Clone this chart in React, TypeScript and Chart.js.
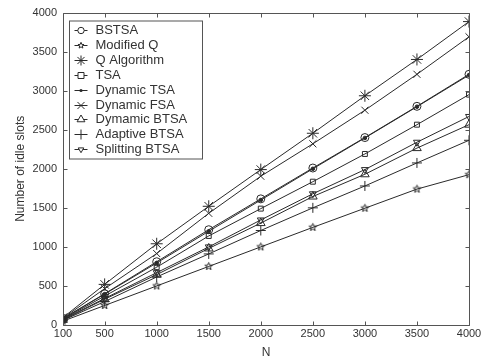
import React, { useEffect, useRef } from "react";
import { Chart, registerables } from "chart.js";

Chart.register(...registerables);

const nValues = [100, 500, 1000, 1500, 2000, 2500, 3000, 3500, 4000];
const xTickValues = [100, 500, 1000, 1500, 2000, 2500, 3000, 3500, 4000];

const bstsa = [85, 400, 810, 1220, 1615, 2010, 2400, 2800, 3210];
const modifiedQ = [50, 250, 500, 750, 1000, 1250, 1495, 1740, 1925];
const qAlgorithm = [95, 520, 1040, 1520, 1990, 2455, 2935, 3400, 3885];
const tsa = [75, 370, 740, 1140, 1490, 1835, 2190, 2565, 2950];
const dynamicTsa = [80, 395, 795, 1200, 1600, 2000, 2395, 2795, 3200];
const dynamicFsa = [88, 465, 915, 1430, 1905, 2320, 2750, 3210, 3690];
const dymamicBtsa = [65, 330, 645, 980, 1305, 1645, 1930, 2265, 2565];
const adaptiveBtsa = [60, 300, 615, 910, 1210, 1500, 1780, 2075, 2365];
const splittingBtsa = [70, 340, 670, 1000, 1345, 1680, 1990, 2340, 2670];

const seriesNames = [
  "BSTSA",
  "Modified Q",
  "Q Algorithm",
  "TSA",
  "Dynamic TSA",
  "Dynamic FSA",
  "Dymamic BTSA",
  "Adaptive BTSA",
  "Splitting BTSA",
];
const seriesData = [bstsa, modifiedQ, qAlgorithm, tsa, dynamicTsa, dynamicFsa, dymamicBtsa, adaptiveBtsa, splittingBtsa];
const markerKinds = ["circle", "pentagram", "star", "rect", "dot", "crossRot", "triangle", "cross", "triangleDown"];
const markerSizes = [4, 4, 6, 3.5, 1.8, 5, 5, 5, 4];
const legendMarkerSizes = [3.2, 3.2, 5, 3, 1.6, 5, 4.5, 5, 3.2];

const LINE = "#2a2a2a";
const AXIS = "#555555";
const TEXT = "#333333";
const FONT = "'Liberation Sans', Arial, sans-serif";

function pentagramPath(ctx: CanvasRenderingContext2D, cx: number, cy: number, r: number) {
  const inner = r * 0.42;
  ctx.beginPath();
  for (let i = 0; i < 10; i++) {
    const rad = i % 2 === 0 ? r : inner;
    const a = -Math.PI / 2 + (i * Math.PI) / 5;
    const x = cx + rad * Math.cos(a);
    const y = cy + rad * Math.sin(a);
    if (i === 0) ctx.moveTo(x, y);
    else ctx.lineTo(x, y);
  }
  ctx.closePath();
}

function makePentagram(r: number) {
  const c = document.createElement("canvas");
  const s = Math.ceil(r * 2 + 3);
  c.width = s;
  c.height = s;
  const ctx = c.getContext("2d")!;
  ctx.strokeStyle = LINE;
  ctx.lineWidth = 1;
  pentagramPath(ctx, s / 2, s / 2, r);
  ctx.stroke();
  return c;
}

function drawMarker(ctx: CanvasRenderingContext2D, kind: string, x: number, y: number, r: number) {
  ctx.save();
  ctx.strokeStyle = LINE;
  ctx.fillStyle = LINE;
  ctx.lineWidth = 1;
  ctx.beginPath();
  switch (kind) {
    case "circle":
      ctx.arc(x, y, r, 0, Math.PI * 2);
      ctx.fillStyle = "#fff";
      ctx.fill();
      ctx.stroke();
      break;
    case "dot":
      ctx.arc(x, y, r, 0, Math.PI * 2);
      ctx.fill();
      break;
    case "rect":
      ctx.rect(x - r, y - r, r * 2, r * 2);
      ctx.fillStyle = "#fff";
      ctx.fill();
      ctx.stroke();
      break;
    case "star": {
      for (let i = 0; i < 4; i++) {
        const a = (i * Math.PI) / 4;
        ctx.moveTo(x - r * Math.cos(a), y - r * Math.sin(a));
        ctx.lineTo(x + r * Math.cos(a), y + r * Math.sin(a));
      }
      ctx.stroke();
      break;
    }
    case "crossRot": {
      const d = r * 0.707;
      ctx.moveTo(x - d, y - d);
      ctx.lineTo(x + d, y + d);
      ctx.moveTo(x - d, y + d);
      ctx.lineTo(x + d, y - d);
      ctx.stroke();
      break;
    }
    case "cross":
      ctx.moveTo(x - r, y);
      ctx.lineTo(x + r, y);
      ctx.moveTo(x, y - r);
      ctx.lineTo(x, y + r);
      ctx.stroke();
      break;
    case "triangle":
      ctx.moveTo(x, y - r);
      ctx.lineTo(x + r * 0.87, y + r * 0.5);
      ctx.lineTo(x - r * 0.87, y + r * 0.5);
      ctx.closePath();
      ctx.fillStyle = "#fff";
      ctx.fill();
      ctx.stroke();
      break;
    case "triangleDown":
      ctx.moveTo(x, y + r);
      ctx.lineTo(x + r * 0.87, y - r * 0.5);
      ctx.lineTo(x - r * 0.87, y - r * 0.5);
      ctx.closePath();
      ctx.fillStyle = "#fff";
      ctx.fill();
      ctx.stroke();
      break;
    case "pentagram":
      pentagramPath(ctx, x, y, r);
      ctx.fillStyle = "#fff";
      ctx.fill();
      ctx.stroke();
      break;
  }
  ctx.restore();
}

const framePlugin = {
  id: "matlabFrame",
  afterDatasetsDraw(chart: any) {
    const { ctx, chartArea } = chart;
    const { left, right, top, bottom } = chartArea;
    const xs = chart.scales.x;
    const ys = chart.scales.y;
    ctx.save();
    ctx.strokeStyle = AXIS;
    ctx.lineWidth = 1;
    const L = Math.round(left) + 0.5;
    const R = Math.round(right) + 0.5;
    const T = Math.round(top) + 0.5;
    const B = Math.round(bottom) + 0.5;
    ctx.beginPath();
    ctx.rect(L, T, R - L, B - T);
    const tl = 4;
    xs.ticks.forEach((t: any) => {
      const px = Math.round(xs.getPixelForValue(t.value)) + 0.5;
      ctx.moveTo(px, B);
      ctx.lineTo(px, B - tl);
      ctx.moveTo(px, T);
      ctx.lineTo(px, T + tl);
    });
    ys.ticks.forEach((t: any) => {
      const py = Math.round(ys.getPixelForValue(t.value)) + 0.5;
      ctx.moveTo(L, py);
      ctx.lineTo(L + tl, py);
      ctx.moveTo(R, py);
      ctx.lineTo(R - tl, py);
    });
    ctx.stroke();

    // legend
    const bx = L + 6;
    const by = T + 7.5;
    const bw = 133;
    const bh = 138;
    ctx.fillStyle = "#ffffff";
    ctx.fillRect(bx, by, bw, bh);
    ctx.strokeStyle = AXIS;
    ctx.strokeRect(bx, by, bw, bh);
    ctx.font = `13px ${FONT}`;
    ctx.textBaseline = "middle";
    ctx.textAlign = "left";
    seriesNames.forEach((name, i) => {
      const y = by + 9 + i * 14.9;
      const yy = Math.round(y) + 0.5;
      ctx.strokeStyle = LINE;
      ctx.beginPath();
      ctx.moveTo(bx + 5, yy);
      ctx.lineTo(bx + 18, yy);
      ctx.stroke();
      drawMarker(ctx, markerKinds[i], bx + 11.5, yy, legendMarkerSizes[i]);
      ctx.fillStyle = TEXT;
      ctx.fillText(name, bx + 26, y + 0.5);
    });
    ctx.restore();
  },
};

export default function App() {
  const canvasRef = useRef<HTMLCanvasElement | null>(null);

  useEffect(() => {
    const canvas = canvasRef.current;
    if (!canvas) return;
    const pent = makePentagram(4);
    const datasets = seriesNames.map((name, i) => {
      const kind = markerKinds[i];
      let pointStyle: any = kind;
      let rotation = 0;
      if (kind === "pentagram") pointStyle = pent;
      if (kind === "dot") pointStyle = "circle";
      if (kind === "triangleDown") {
        pointStyle = "triangle";
        rotation = 180;
      }
      return {
        label: name,
        data: nValues.map((n, j) => ({ x: n, y: seriesData[i][j] })),
        borderColor: LINE,
        borderWidth: 1,
        backgroundColor: kind === "dot" ? LINE : "rgba(0,0,0,0)",
        pointStyle,
        pointRotation: rotation,
        pointRadius: markerSizes[i],
        pointBorderColor: LINE,
        pointBorderWidth: 1,
        pointBackgroundColor: kind === "dot" ? LINE : "rgba(0,0,0,0)",
        fill: false,
        tension: 0,
      };
    });

    const chart = new Chart(canvas, {
      type: "line",
      data: { datasets },
      options: {
        animation: false,
        responsive: false,
        devicePixelRatio: 1,
        layout: { padding: { top: 4, right: 21, left: 0, bottom: 0 } },
        plugins: { legend: { display: false }, tooltip: { enabled: false } },
        scales: {
          x: {
            type: "linear",
            min: 100,
            max: 4000,
            afterBuildTicks: (scale: any) => {
              scale.ticks = xTickValues.map((v) => ({ value: v }));
            },
            afterFit: (scale: any) => {
              scale.height = 35;
            },
            grid: { display: false, drawTicks: false },
            border: { display: false },
            ticks: {
              color: TEXT,
              font: { family: FONT, size: 11 },
              padding: 2,
              maxRotation: 0,
              autoSkip: false,
              callback: (v: any) => String(v),
            },
            title: {
              display: true,
              text: "N",
              color: TEXT,
              font: { family: FONT, size: 12 },
              padding: { top: 0, bottom: 0 },
            },
          },
          y: {
            type: "linear",
            min: 0,
            max: 4000,
            afterFit: (scale: any) => {
              scale.width = 63;
            },
            grid: { display: false, drawTicks: false },
            border: { display: false },
            ticks: {
              stepSize: 500,
              color: TEXT,
              font: { family: FONT, size: 11 },
              padding: 6,
              callback: (v: any) => String(v),
            },
            title: {
              display: true,
              text: "Number of idle slots",
              color: TEXT,
              font: { family: FONT, size: 12 },
              padding: { top: 13, bottom: 0 },
            },
          },
        },
      },
      plugins: [framePlugin],
    });
    return () => chart.destroy();
  }, []);

  return (
    <div style={{ position: "fixed", left: 0, top: 0, width: 490, height: 360, background: "#fff" }}>
      <canvas ref={canvasRef} width={490} height={360} style={{ width: 490, height: 360 }} />
    </div>
  );
}
